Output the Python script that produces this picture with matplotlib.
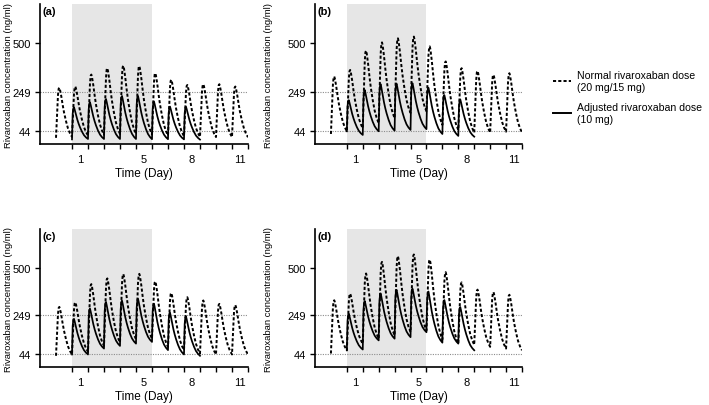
import matplotlib
matplotlib.use('Agg')
import matplotlib.pyplot as plt
from matplotlib.lines import Line2D

plt.rcParams['font.family'] = ['Liberation Sans', 'DejaVu Sans']

# ---------------- data ----------------
panel_labels = ['(a)', '(b)', '(c)', '(d)']
day_tick_labels = ['1', '5', '8', '11']
day_label_hours = [12, 108, 180, 252]
y_ticks = [44, 249, 500]
ref_lines = [44, 249]
shade_hours = [0, 120]

normal_dose_hours = [-24, 0, 24, 48, 72, 96, 120, 144, 168, 192, 216, 240]
adjusted_dose_hours = [0, 24, 48, 72, 96, 120, 144, 168]

# within-dose profile (hours after dose, fraction of the peak height)
profile_hours = [0, 1, 2, 3, 4, 5, 6, 8, 10, 12, 15, 18, 21, 24]
normal_profile = [0, 0.3, 0.62, 0.86, 0.98, 1.0, 0.96, 0.82, 0.65, 0.5, 0.32, 0.17, 0.07, 0]
normal_peak_idx = 5
adjusted_profile = [0, 0.8, 0.97, 1.0, 0.93, 0.85, 0.77, 0.61, 0.48, 0.37, 0.23, 0.12, 0.05, 0]
adjusted_peak_idx = 3

a_normal_peaks = [270, 276, 338, 371, 384, 382, 345, 311, 284, 288, 288, 276]
a_normal_troughs = [10, 15, 22, 26, 30, 30, 28, 22, 18, 15, 14, 14, 13]
a_adjusted_peaks = [168, 194, 211, 227, 227, 198, 172, 171]
a_adjusted_troughs = [2, 4, 4, 4, 4, 3, 3, 2, 1]

b_normal_peaks = [328, 362, 462, 505, 526, 535, 484, 406, 371, 357, 337, 345]
b_normal_troughs = [30, 44, 60, 86, 112, 139, 147, 77, 51, 37, 37, 42, 38]
b_adjusted_peaks = [205, 258, 288, 291, 293, 270, 231, 209]
b_adjusted_troughs = [44, 25, 44, 47, 51, 55, 30, 20, 16]

c_normal_peaks = [294, 318, 414, 444, 467, 468, 428, 367, 345, 328, 310, 304]
c_normal_troughs = [37, 44, 58, 89, 107, 124, 127, 84, 67, 49, 44, 44, 44]
c_adjusted_peaks = [231, 285, 320, 327, 337, 311, 264, 244]
c_adjusted_troughs = [44, 44, 75, 89, 101, 110, 67, 44, 37]

d_normal_peaks = [329, 364, 470, 531, 561, 570, 543, 477, 423, 385, 372, 358]
d_normal_troughs = [49, 66, 101, 127, 144, 161, 170, 123, 101, 95, 84, 75, 66]
d_adjusted_peaks = [258, 325, 365, 384, 390, 375, 330, 293]
d_adjusted_troughs = [66, 70, 118, 127, 135, 161, 106, 101, 66]

legend_labels = ['Normal rivaroxaban dose\n(20 mg/15 mg)', 'Adjusted rivaroxaban dose\n(10 mg)']


def build_curve(dose_hours, peaks, troughs, profile, peak_idx):
    t, c = [], []
    for i, d in enumerate(dose_hours):
        for j, h in enumerate(profile_hours):
            if i > 0 and j == 0:
                continue
            lo = troughs[i] if j <= peak_idx else troughs[i + 1]
            t.append(d + h)
            c.append(lo + (peaks[i] - lo) * profile[j])
    return t, c


panels = [
    (a_normal_peaks, a_normal_troughs, a_adjusted_peaks, a_adjusted_troughs),
    (b_normal_peaks, b_normal_troughs, b_adjusted_peaks, b_adjusted_troughs),
    (c_normal_peaks, c_normal_troughs, c_adjusted_peaks, c_adjusted_troughs),
    (d_normal_peaks, d_normal_troughs, d_adjusted_peaks, d_adjusted_troughs),
]

W, H = 709, 406
fig = plt.figure(figsize=(W / 100, H / 100), dpi=100)

# pixel boxes (left, top, right, bottom)
boxes = [(40, 5, 248, 145), (315, 5, 522, 145), (40, 230, 248, 368), (315, 230, 522, 368)]
ylabel_right = [13, 273, 13, 273]

dash_style = (0, (1.6, 1.1))

for k, (box, data) in enumerate(zip(boxes, panels)):
    l, t, r, b = box
    ax = fig.add_axes([l / W, 1 - b / H, (r - l) / W, (b - t) / H])
    npk, ntr, apk, atr = data
    ax.axvspan(shade_hours[0], shade_hours[1], color='#e6e6e6', lw=0, zorder=0)
    for y in ref_lines:
        ax.axhline(y, color='#8c8c8c', lw=0.8, ls=(0, (1, 1.2)), zorder=1)
    tn, cn = build_curve(normal_dose_hours, npk, ntr, normal_profile, normal_peak_idx)
    ta, ca = build_curve(adjusted_dose_hours, apk, atr, adjusted_profile, adjusted_peak_idx)
    ax.plot(tn, cn, color='black', lw=1.4, ls=dash_style, zorder=3)
    ax.plot(ta, ca, color='black', lw=1.25, zorder=4)

    ax.set_xlim(-48, 264)
    ax.set_ylim(-22, 704)
    ax.set_xticks(list(range(0, 265, 24)))
    ax.set_xticklabels([])
    ax.set_xticks(day_label_hours, minor=True)
    ax.set_xticklabels(day_tick_labels, minor=True)
    ax.tick_params(axis='x', which='major', length=3.5, width=1.0, direction='out')
    ax.tick_params(axis='x', which='minor', length=0, labelsize=8, pad=7.5)
    ax.set_yticks(y_ticks)
    ax.set_yticklabels([str(v) for v in y_ticks])
    ax.tick_params(axis='y', length=3.5, width=1.0, labelsize=8, pad=3)
    for s in ['top', 'right']:
        ax.spines[s].set_visible(False)
    for s in ['left', 'bottom']:
        ax.spines[s].set_linewidth(1.2)
    ax.set_xlabel('Time (Day)', fontsize=8.5, labelpad=2)
    ax.set_ylabel('Rivaroxaban concentration (ng/ml)', fontsize=6.8)
    ax.yaxis.set_label_coords((ylabel_right[k] - l) / (r - l), 0.5)
    ax.text(0.012, 0.985, panel_labels[k], transform=ax.transAxes, fontsize=8,
            fontweight='bold', va='top', ha='left')

handles = [Line2D([], [], color='black', lw=1.4, ls=dash_style),
           Line2D([], [], color='black', lw=1.4)]
fig.legend(handles, legend_labels, loc='upper left', bbox_to_anchor=(553 / W, 1 - 71 / H),
           frameon=False, fontsize=7.6, handlelength=1.7, handletextpad=0.6,
           labelspacing=1.0, borderaxespad=0, borderpad=0)

fig.savefig('out.png', dpi=100)
